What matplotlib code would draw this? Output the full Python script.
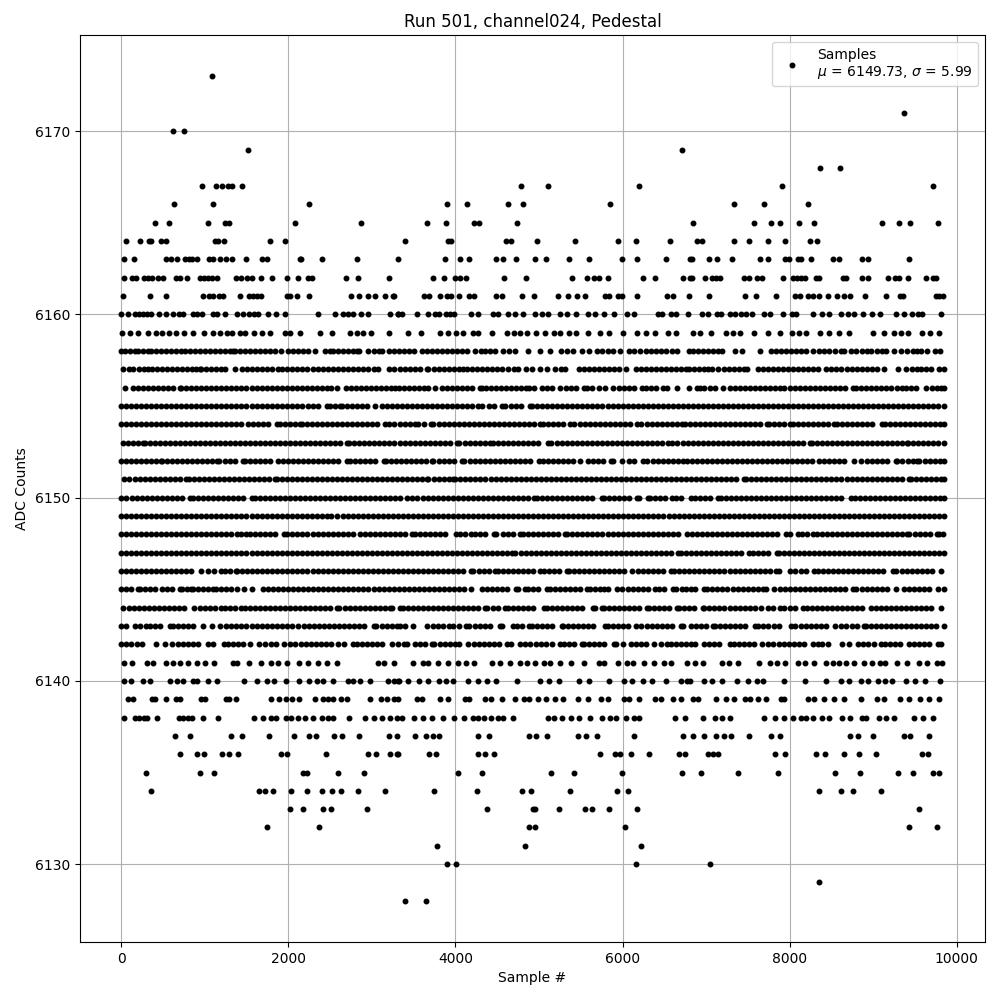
import matplotlib
matplotlib.use("Agg")
import matplotlib.pyplot as plt

# sample numbers, one list per ADC level
s6173 = [1088]
s6171 = [9368]
s6170 = [620,752]
s6169 = [1520,6712]
s6168 = [8360,8600]
s6167 = [968,1136,1208,1280,1328,1448,4780,5104,6196,7904,9716]
s6166 = [632,1100,2252,3904,4144,4624,4804,5848,7328,7688,8216]
s6165 = [404,572,1040,1244,1292,2084,2876,3664,3892,4228,4288,4732,6848,7568,7772,7880,8108,8288,9104,9308,9440,9776]
s6164 = [56,224,328,352,476,536,1124,1160,1232,1784,1964,3400,3916,3952,4600,4660,4972,5428,5944,6160,6568,6896,6956,7328,7508,7736,7940,8240,8324]
s6163 = [32,152,532,596,668,764,812,848,908,1052,1100,1184,1256,1328,1496,1688,1748,2144,2156,2408,2828,3308,3880,4060,4168,4480,4564,4720,4948,5080,5356,5596,5992,6172,6520,6804,6836,7040,7136,7304,7640,7736,7940,7988,8096,8132,8252,8516,8588,8864,8936,9428]
s6162 = [32,128,176,272,320,368,440,500,656,704,788,944,992,1040,1088,1148,1376,1436,1508,1568,1676,1808,1988,2120,2240,2288,2696,2840,3200,3736,3868,4000,4060,4132,4576,4840,5392,5572,5656,5716,5824,6244,6388,6724,6808,6836,6992,7076,7124,7172,7448,7508,7604,7664,7916,8036,8084,8132,8180,8312,8348,8636,8672,8864,8936,9176,9260,9308,9416,9632,9716,9752]
s6161 = [20,344,536,980,1052,1100,1172,1220,1424,1532,1580,1628,1676,1988,2024,2108,2252,2756,2852,2960,3032,3152,3248,3264,3628,3688,3820,3904,3952,4048,4168,4228,4480,4552,4792,4936,5224,5344,5452,5548,5788,5836,5944,5992,6172,6532,6604,6796,7040,7460,7592,7832,8060,8120,8216,8276,8348,8456,8564,8648,8720,8900,9152,9320,9356,9752,9788,9840]
s6160 = [0,80,164,212,260,308,356,452,536,620,692,740,860,908,968,1100,1148,1244,1388,1460,1532,1592,1640,1760,1856,1964,2360,2564,2660,2720,2780,2876,2960,3212,3308,3316,3364,3544,3676,3760,3808,3892,3940,3988,4192,4276,4444,4504,4624,4708,4804,4948,5032,5104,5248,5332,5440,5584,5668,5776,5896,6052,6136,6424,6472,6580,6640,6784,6956,7028,7136,7184,7280,7340,7412,7472,7544,7688,7760,7916,8024,8072,8276,8384,8468,8612,8696,8768,8876,8984,9080,9272,9368,9464,9536,9584,9812]
s6159 = [8,104,200,320,416,488,572,656,752,860,992,1100,1184,1268,1328,1424,1484,1592,1688,1784,1964,2024,2144,2384,2528,2744,2828,2900,2984,3208,3436,3592,3820,3916,4012,4096,4216,4276,4432,4612,4696,4768,4852,4960,5068,5176,5248,5356,5440,5584,5728,5836,6004,6172,6280,6388,6544,6640,6848,6932,7064,7232,7316,7400,7568,7736,7880,8024,8108,8192,8360,8468,8588,8708,8996,9128,9248,9332,9416,9584,9680,9788]

s6158 = [0,52,110,160,200,260,320,360,420,480,540,600,660,720,760,820,880,940,1000,1060,1120,1180,1240,1300,1340,1360,1420,1480,1540,1600,1660,1720,1780,1840,1910,2000,2060,2120,2180,2240,2320,2440,2500,2540,2590,2650,2710,2770,2820,2850,2950,3020,3080,3120,3200,3260,3320,3380,3440,3500,3596,3664,3720,3780,3840,3900,3960,4020,4080,4140,4236,4304,4360,4408,4476,4568,4636,4708,4864,5008,5136,5264,5330,5408,5512,5604,5692,5756,5820,5890,5968,6076,6140,6210,6276,6336,6400,6460,6520,6590,6656,6796,6840,6900,6960,7020,7080,7140,7188,7348,7428,7640,7776,7840,7900,7960,8020,8080,8140,8200,8280,8348,8410,8470,8540,8616,8648,8728,8790,8860,8928,8976,9040,9100,9148,9248,9328,9408,9470,9528,9576,9640,9736,9800]
s6157 = [28,90,140,212,270,320,368,430,490,550,610,670,730,790,850,900,940,960,1020,1080,1140,1190,1240,1360,1452,1508,1570,1630,1690,1750,1810,1880,1920,1980,2040,2100,2160,2220,2300,2360,2420,2480,2540,2600,2660,2720,2780,2840,2900,2960,3020,3068,3200,3260,3340,3400,3460,3520,3580,3656,3676,3740,3800,3860,3920,3980,4040,4088,4136,4200,4260,4320,4380,4440,4500,4560,4630,4696,4744,4840,4912,5008,5096,5196,5260,5316,5476,5540,5600,5660,5720,5780,5840,5900,5960,6036,6156,6220,6280,6340,6400,6464,6516,6580,6640,6700,6760,6800,6860,6920,6980,7028,7076,7148,7210,7270,7330,7390,7448,7488,7616,7680,7740,7800,7860,7920,7980,8040,8100,8160,8220,8280,8336,8436,8500,8556,8616,8680,8740,8800,8860,8920,8990,9048,9128,9292,9392,9460,9520,9576,9628,9696,9790,9845]
s6156 = [44,140,200,260,320,380,440,500,560,620,700,720,780,840,900,960,1020,1080,1140,1200,1260,1320,1380,1440,1500,1560,1620,1680,1740,1800,1860,1920,1980,2040,2100,2160,2220,2280,2340,2400,2460,2508,2580,2692,2750,2810,2870,2930,2990,3050,3110,3170,3230,3280,3320,3380,3440,3500,3560,3620,3676,3756,3836,3900,3960,4020,4080,4140,4200,4296,4316,4368,4430,4490,4550,4610,4670,4730,4790,4848,4876,4940,5036,5096,5156,5256,5320,5380,5440,5536,5576,5640,5716,5788,5888,5956,6020,6080,6140,6236,6276,6340,6400,6488,6536,6656,6796,6888,6930,6976,7048,7108,7208,7288,7350,7410,7470,7530,7590,7650,7710,7770,7830,7888,7936,8000,8060,8120,8180,8240,8300,8360,8420,8480,8540,8600,8660,8760,8788,8850,8910,8970,9030,9090,9150,9210,9280,9348,9388,9450,9508,9628,9700,9768,9808,9845]
s6155 = [0,60,120,180,240,300,360,420,480,540,600,660,720,780,840,900,960,1020,1080,1140,1200,1260,1320,1380,1440,1500,1560,1620,1680,1740,1800,1860,1920,1980,2040,2100,2160,2240,2300,2360,2460,2500,2560,2620,2640,2700,2760,2820,2880,2940,3040,3120,3180,3240,3300,3360,3420,3480,3540,3600,3660,3720,3780,3840,3900,3960,4020,4080,4140,4200,4276,4324,4396,4460,4556,4596,4660,4720,4780,4888,4916,4980,5040,5100,5160,5220,5280,5340,5400,5460,5520,5580,5640,5700,5760,5820,5880,5940,6000,6060,6120,6180,6240,6300,6360,6420,6480,6540,6600,6660,6720,6780,6840,6900,6960,7020,7080,7140,7200,7260,7320,7380,7440,7500,7560,7620,7680,7740,7800,7860,7920,7980,8040,8100,8160,8220,8280,8340,8400,8460,8520,8580,8640,8700,8760,8820,8880,8940,9000,9060,9120,9180,9240,9300,9360,9420,9480,9540,9600,9660,9720,9780,9845]
s6154 = [0,60,120,180,240,300,360,420,480,540,600,660,720,780,840,900,960,1020,1080,1140,1200,1260,1320,1380,1440,1520,1572,1640,1700,1760,1860,1900,1960,2020,2080,2140,2160,2220,2280,2340,2400,2460,2520,2580,2640,2700,2760,2820,2880,2940,3000,3060,3160,3200,3260,3340,3400,3460,3516,3556,3620,3704,3736,3800,3860,3920,3980,4040,4100,4160,4220,4280,4340,4400,4460,4520,4580,4640,4700,4760,4820,4880,4940,5016,5048,5110,5170,5230,5288,5368,5424,5490,5550,5610,5670,5730,5790,5850,5910,5970,6030,6090,6176,6224,6290,6350,6410,6470,6530,6590,6650,6710,6748,6810,6870,6930,6990,7050,7110,7170,7230,7290,7350,7410,7470,7530,7590,7650,7728,7748,7810,7870,7930,8008,8040,8100,8160,8220,8280,8340,8400,8460,8536,8568,8630,8690,8750,8810,8870,8930,8990,9100,9136,9200,9260,9320,9380,9440,9500,9560,9620,9680,9740,9800,9845]
s6153 = [20,80,140,200,260,280,340,400,460,520,580,640,700,760,820,880,940,1000,1060,1120,1180,1240,1300,1360,1420,1480,1540,1600,1660,1720,1780,1840,1900,1960,2020,2080,2140,2200,2260,2320,2380,2440,2500,2560,2620,2700,2732,2790,2850,2910,2970,3030,3090,3150,3210,3270,3340,3400,3460,3520,3580,3640,3700,3760,3820,3880,3940,4016,4048,4110,4170,4230,4290,4350,4416,4448,4510,4570,4630,4690,4750,4810,4870,4930,4990,5104,5144,5210,5270,5330,5390,5450,5510,5570,5630,5690,5750,5810,5870,5930,5990,6050,6110,6170,6230,6290,6350,6410,6470,6544,6596,6656,6720,6780,6840,6900,6960,7020,7080,7140,7200,7260,7320,7380,7440,7500,7560,7620,7680,7740,7800,7860,7920,7980,8040,8100,8160,8248,8268,8330,8390,8450,8510,8570,8630,8690,8750,8810,8870,8930,8990,9050,9110,9170,9230,9290,9350,9400,9416,9480,9540,9600,9660,9720,9780,9845]
s6152 = [0,60,120,180,240,300,360,420,472,488,550,610,670,730,790,850,910,970,1030,1090,1148,1172,1240,1300,1360,1460,1480,1540,1600,1660,1720,1780,1880,1940,2000,2060,2120,2180,2240,2300,2360,2420,2480,2540,2600,2700,2740,2800,2860,2920,2980,3040,3140,3168,3230,3290,3350,3410,3470,3530,3590,3650,3716,3736,3800,3860,3920,3980,4076,4104,4170,4230,4290,4350,4410,4470,4530,4590,4650,4710,4770,4830,4890,4996,5048,5110,5170,5230,5290,5350,5410,5496,5584,5650,5710,5770,5864,5888,5996,6076,6140,6248,6296,6360,6420,6480,6540,6600,6660,6720,6768,6830,6890,6950,7010,7070,7130,7190,7250,7310,7370,7430,7490,7550,7610,7670,7730,7790,7850,7910,7970,8030,8090,8150,8208,8272,8348,8410,8470,8530,8590,8650,8768,8856,8920,8980,9040,9100,9160,9268,9288,9350,9410,9470,9528,9552,9620,9680,9740,9800,9845]
s6151 = [40,100,160,220,280,340,400,460,520,580,640,700,780,812,870,930,990,1050,1110,1170,1230,1290,1350,1410,1470,1530,1590,1650,1710,1770,1840,1860,1920,1980,2040,2100,2160,2220,2280,2340,2400,2460,2520,2580,2640,2700,2760,2820,2880,2940,3000,3060,3120,3180,3240,3300,3360,3420,3480,3540,3600,3656,3676,3740,3800,3860,3920,3976,3996,4060,4120,4180,4240,4300,4360,4420,4480,4540,4600,4660,4720,4780,4840,4900,4960,5020,5080,5140,5200,5260,5320,5380,5440,5500,5560,5620,5680,5740,5800,5860,5920,5980,6040,6100,6160,6220,6280,6340,6400,6460,6520,6580,6640,6700,6760,6820,6880,6940,7000,7060,7120,7180,7240,7300,7360,7448,7476,7540,7600,7660,7720,7780,7840,7900,7960,8020,8080,8140,8200,8260,8320,8380,8440,8500,8560,8620,8680,8740,8800,8860,8920,8980,9040,9100,9160,9220,9280,9340,9428,9448,9510,9570,9630,9690,9750,9810,9845]
s6150 = [0,60,132,188,250,310,370,430,490,550,610,670,730,820,860,920,980,1040,1100,1160,1220,1280,1340,1400,1460,1560,1600,1660,1720,1780,1840,1900,1960,2020,2080,2140,2200,2260,2320,2380,2440,2500,2560,2620,2680,2740,2800,2860,2920,2980,3040,3100,3160,3220,3280,3340,3424,3480,3544,3610,3670,3730,3790,3850,3910,3970,4030,4090,4150,4210,4270,4330,4390,4450,4510,4570,4630,4690,4750,4810,4870,4936,4976,5040,5100,5160,5220,5280,5340,5400,5460,5520,5580,5640,5756,5776,5840,5900,5960,6020,6080,6168,6196,6304,6328,6390,6450,6510,6596,6636,6700,6816,6870,6930,6990,7050,7148,7176,7240,7300,7360,7420,7480,7540,7600,7660,7720,7780,7840,7900,7960,8020,8080,8140,8200,8260,8320,8380,8440,8500,8560,8620,8736,8776,8840,8900,8960,9020,9080,9140,9200,9260,9320,9380,9440,9500,9560,9620,9680,9740,9800,9845]
s6149 = [0,60,120,180,240,300,360,420,480,540,600,660,720,780,840,900,960,1020,1080,1140,1200,1260,1320,1380,1440,1500,1560,1620,1680,1740,1800,1860,1920,1980,2040,2100,2160,2220,2280,2340,2400,2460,2508,2588,2650,2710,2770,2830,2890,2950,3010,3070,3130,3190,3250,3310,3370,3430,3490,3550,3610,3670,3730,3790,3850,3910,3970,4030,4090,4150,4210,4270,4330,4390,4450,4510,4570,4630,4690,4750,4810,4870,4930,4990,5050,5110,5170,5230,5290,5350,5410,5470,5530,5590,5650,5710,5770,5830,5890,5950,6010,6070,6130,6190,6250,6310,6370,6430,6490,6550,6610,6670,6730,6790,6850,6910,6970,7030,7090,7150,7210,7270,7330,7390,7450,7510,7570,7630,7690,7750,7810,7870,7930,7990,8050,8110,8170,8230,8290,8350,8410,8470,8530,8590,8650,8710,8770,8830,8890,8950,9010,9070,9130,9190,9250,9310,9370,9430,9490,9550,9610,9670,9730,9790,9845]
s6148 = [0,60,120,180,240,300,360,420,480,540,600,660,720,780,840,900,960,1020,1080,1140,1200,1260,1320,1388,1440,1500,1540,1600,1660,1720,1780,1840,1948,1988,2050,2110,2170,2230,2290,2350,2410,2470,2530,2590,2650,2710,2770,2860,2920,2980,3040,3100,3160,3220,3280,3340,3400,3476,3516,3580,3640,3700,3760,3820,3880,4008,4056,4120,4184,4236,4300,4360,4464,4488,4568,4624,4690,4768,4808,4870,4930,4990,5050,5110,5170,5230,5316,5336,5400,5460,5520,5580,5640,5700,5760,5820,5880,5940,6000,6060,6120,6180,6240,6300,6360,6420,6480,6540,6600,6660,6776,6828,6890,6950,7010,7070,7130,7190,7250,7310,7370,7430,7490,7550,7610,7670,7730,7790,7850,7960,8000,8096,8148,8210,8280,8328,8390,8450,8510,8570,8630,8690,8750,8810,8870,8930,8990,9050,9110,9170,9230,9290,9350,9408,9432,9500,9560,9620,9680,9760,9788,9840]
s6147 = [0,60,120,180,240,300,360,420,480,540,600,660,720,780,840,900,960,1020,1080,1140,1200,1260,1320,1380,1440,1500,1560,1620,1680,1740,1800,1860,1920,1980,2040,2100,2160,2220,2280,2340,2400,2460,2520,2580,2640,2700,2760,2820,2880,2940,3000,3060,3120,3180,3240,3300,3360,3420,3480,3540,3600,3660,3720,3780,3840,3900,3960,4020,4080,4140,4200,4260,4320,4380,4440,4500,4560,4620,4676,4716,4780,4840,4900,4960,5020,5080,5140,5200,5260,5320,5380,5440,5500,5560,5620,5680,5740,5800,5860,5920,5980,6040,6100,6160,6220,6280,6340,6400,6460,6520,6580,6664,6696,6760,6820,6880,6940,7000,7060,7120,7180,7240,7300,7360,7420,7508,7560,7620,7680,7740,7848,7868,7930,7990,8050,8110,8170,8230,8290,8350,8410,8470,8530,8590,8650,8710,8770,8830,8890,8950,9010,9070,9130,9190,9250,9310,9370,9430,9490,9550,9610,9670,9730,9790,9845]
s6146 = [0,60,120,180,240,300,360,420,480,540,600,660,720,780,840,960,1040,1110,1200,1240,1300,1372,1388,1450,1510,1570,1630,1690,1750,1810,1870,1930,1990,2050,2110,2170,2230,2290,2350,2410,2470,2530,2590,2650,2710,2770,2830,2890,2950,3010,3070,3130,3190,3250,3310,3370,3430,3490,3550,3610,3670,3730,3790,3850,3910,3970,4030,4090,4184,4216,4280,4340,4400,4476,4504,4570,4630,4690,4750,4810,4870,4930,5008,5056,5120,5180,5240,5336,5356,5420,5480,5540,5600,5660,5720,5780,5840,5900,5960,6020,6116,6184,6250,6310,6370,6430,6490,6584,6616,6680,6740,6800,6860,6920,6980,7040,7100,7160,7220,7280,7340,7400,7460,7520,7580,7640,7700,7760,7840,7868,8000,8068,8130,8190,8296,8336,8400,8460,8520,8580,8640,8700,8760,8820,8880,8940,9000,9060,9120,9236,9272,9340,9400,9460,9520,9580,9640,9700,9816]
s6145 = [0,60,120,200,220,290,350,410,492,548,610,700,728,790,840,860,920,980,1040,1100,1132,1200,1260,1320,1388,1468,1560,1692,1760,1820,1880,1940,2000,2060,2120,2180,2240,2300,2360,2420,2480,2540,2600,2660,2720,2780,2840,2900,2960,3020,3080,3140,3200,3260,3320,3380,3440,3500,3560,3620,3680,3740,3800,3860,3920,3980,4040,4100,4184,4316,4380,4440,4500,4560,4620,4728,4744,4832,4864,4930,4990,5096,5128,5190,5250,5310,5370,5430,5490,5576,5608,5670,5730,5784,5824,5936,5996,6060,6120,6180,6240,6300,6384,6436,6500,6608,6636,6716,6756,6816,6870,6976,7008,7070,7130,7190,7250,7316,7376,7440,7500,7560,7620,7680,7720,7808,7880,7940,8000,8060,8120,8180,8240,8300,8360,8420,8480,8540,8600,8660,8760,8788,8868,8930,8990,9050,9110,9170,9268,9368,9430,9490,9550,9610,9670,9776,9845]
s6144 = [28,90,150,210,270,330,390,450,510,570,628,692,750,868,940,1000,1060,1120,1200,1240,1300,1360,1440,1480,1540,1600,1660,1720,1780,1840,1900,1960,2020,2080,2140,2200,2260,2320,2380,2440,2500,2580,2612,2680,2740,2800,2860,2920,2980,3040,3100,3160,3220,3240,3340,3368,3430,3490,3550,3610,3670,3730,3790,3850,3910,3970,4030,4090,4150,4210,4270,4356,4384,4450,4510,4596,4624,4690,4750,4810,4870,4930,5064,5096,5160,5220,5280,5340,5400,5460,5520,5648,5676,5756,5776,5840,5900,5960,6020,6080,6140,6200,6296,6316,6380,6440,6500,6560,6648,6680,6740,6800,6860,6968,6976,7040,7100,7160,7220,7280,7340,7400,7460,7520,7580,7656,7736,7800,7888,7936,8000,8060,8160,8208,8268,8330,8390,8450,8510,8570,8630,8690,8750,8810,8870,8976,9028,9090,9150,9210,9270,9330,9390,9450,9510,9570,9630,9690,9816]
s6143 = [0,60,160,228,300,340,400,460,580,620,680,740,800,860,980,1088,1188,1260,1320,1380,1440,1500,1560,1620,1680,1740,1800,1860,1920,1980,2040,2120,2188,2250,2310,2370,2430,2490,2550,2610,2670,2730,2790,2850,2910,3020,3052,3120,3180,3240,3300,3340,3400,3496,3664,3730,3790,3850,3920,3968,4040,4128,4168,4230,4290,4350,4410,4528,4556,4688,4736,4800,4876,4916,4976,5040,5100,5160,5276,5288,5350,5410,5470,5530,5590,5650,5796,5824,5890,5950,6010,6070,6156,6224,6290,6350,6410,6470,6530,6590,6696,6728,6816,6880,6940,7000,7088,7108,7170,7230,7290,7350,7410,7470,7588,7616,7680,7740,7808,7868,8016,8068,8130,8190,8250,8310,8370,8430,8548,8620,8676,8740,8800,8888,8908,8970,9030,9090,9150,9210,9270,9330,9390,9450,9510,9570,9630,9690,9750,9845]
s6142 = [0,60,120,190,252,420,520,612,680,740,800,860,920,1040,1100,1228,1280,1340,1400,1460,1548,1652,1720,1790,1850,1948,2020,2080,2148,2210,2270,2330,2390,2450,2508,2600,2672,2780,2820,2880,2940,3000,3060,3120,3240,3308,3384,3424,3516,3580,3640,3716,3744,3810,3870,3930,3996,4048,4156,4220,4280,4340,4400,4460,4520,4616,4664,4768,4830,4890,4968,5024,5088,5150,5256,5296,5360,5420,5516,5536,5600,5660,5720,5780,5896,5916,6008,6096,6160,6220,6280,6376,6456,6536,6584,6636,6700,6760,6816,6868,6976,7040,7100,7160,7288,7328,7390,7450,7510,7570,7668,7736,7800,7868,7928,7988,8048,8108,8168,8280,8340,8388,8456,8624,8708,8816,8880,8940,9010,9096,9136,9200,9260,9320,9428,9488,9550,9610,9670,9776,9816]

s6141 = [32,128,308,380,536,620,704,800,908,1004,1112,1340,1388,1532,1676,1796,1880,1988,2132,2240,2360,2468,2588,3068,3140,3260,3496,3616,3676,3796,3916,4036,4132,4228,4432,4528,4648,4768,4856,4948,5056,5128,5256,5380,5536,5716,5776,5944,6052,6124,6256,6376,6496,6580,6772,6872,6968,7196,7268,7376,7628,7760,7848,7940,8096,8188,8288,8440,8516,8588,8676,8768,8888,8988,9080,9140,9284,9408,9548,9648,9764,9824]
s6140 = [32,116,260,340,584,668,740,860,908,1040,1148,1472,1628,1748,1832,1976,2132,2252,2340,2420,2540,2720,2780,2860,2972,3188,3260,3308,3328,3436,3568,3676,3808,3892,3976,4156,4276,4384,4480,4732,5008,5116,5236,5476,5596,5836,6016,6112,6244,6352,6520,6700,6772,6812,6980,7076,7196,7364,7496,7604,7676,7928,8180,8432,8612,8708,8852,8936,9056,9140,9224,9392,9500,9620,9800]
s6139 = [80,140,368,404,536,656,704,956,1004,1256,1292,1376,1796,1892,1976,2048,2132,2324,2420,2480,2540,2636,2708,2972,3104,3176,3260,3316,3544,3604,3820,3916,4120,4168,4360,4420,4552,4708,4816,4876,4984,5080,5188,5284,5464,5584,5740,5824,6012,6076,6196,6388,6460,6604,6700,6848,6908,7124,7232,7328,7460,7520,7616,7712,7892,7928,8216,8288,8408,8528,8648,8852,9044,9128,9320,9428,9560,9668,9788]
s6138 = [40,164,212,272,308,428,692,740,800,848,980,1160,1592,1700,1796,1856,1976,2036,2120,2204,2300,2408,2480,2540,2732,2924,3020,3116,3212,3296,3364,3508,3616,3724,3856,3988,4108,4216,4276,4348,4420,4504,4564,4684,5104,5176,5272,5380,5476,5608,5752,5848,5920,6036,6136,6196,6628,6748,6968,7112,7196,7280,7688,7820,7928,8036,8132,8192,8276,8384,8468,8624,8720,8864,8912,9068,9152,9248,9488,9596,9716]
s6137 = [644,824,1316,1448,1772,2072,2252,2336,2552,2648,2852,3200,3296,3520,3652,3736,3808,4276,4396,4876,4960,5092,5464,5560,5692,6132,6724,6848,6980,7124,7220,7292,7508,7772,7880,8720,8816,8996,9368,9440,9668]
s6136 = [704,908,992,1208,1292,1400,1916,1988,2456,2960,3044,3212,3296,3316,3688,3772,4276,4360,4456,5728,5908,5968,6096,6316,6676,6748,7028,7088,7148,7820,7940,8312,8420,8648,8828,9032,9584,9656]
s6135 = [296,944,1112,2180,2228,2600,2912,4036,4324,5140,5416,5992,6712,6944,7376,7856,8540,8840,9296,9476,9716,9788]
s6134 = [356,1652,1724,1820,2036,2228,2408,2528,2636,2840,3152,3748,4264,4792,4900,5368,5928,6064,8348,8612,8756,9092]
s6133 = [2024,2180,2420,2516,2948,4384,4924,4948,5236,5548,5632,5836,6172,9548]
s6132 = [1748,2372,4876,4948,6028,9428,9764]
s6131 = [3784,4828,6220]
s6130 = [3904,4012,6160,7052]
s6129 = [8348]
s6128 = [3400,3652]

levels = [6173,6171,6170,6169,6168,6167,6166,6165,6164,6163,6162,6161,6160,6159,6158,6157,6156,6155,6154,6153,6152,6151,6150,6149,6148,6147,6146,6145,6144,6143,6142,6141,6140,6139,6138,6137,6136,6135,6134,6133,6132,6131,6130,6129,6128]
rows = [s6173,s6171,s6170,s6169,s6168,s6167,s6166,s6165,s6164,s6163,s6162,s6161,s6160,s6159,s6158,s6157,s6156,s6155,s6154,s6153,s6152,s6151,s6150,s6149,s6148,s6147,s6146,s6145,s6144,s6143,s6142,s6141,s6140,s6139,s6138,s6137,s6136,s6135,s6134,s6133,s6132,s6131,s6130,s6129,s6128]

samples = []
counts = []
for level, row in zip(levels, rows):
    samples += row
    counts += [level] * len(row)

plt.figure(figsize=(10,10))
plt.plot(samples,counts,"k.",markersize=6.5,label="Samples\n$\\mu$ = 6149.73, $\\sigma$ = 5.99")
plt.title("Run 501, channel024, Pedestal")
plt.xlabel("Sample #")
plt.ylabel("ADC Counts")
plt.grid(True)
plt.legend(loc="upper right")
plt.subplots_adjust(left=0.08,right=0.985,top=0.965,bottom=0.058)
plt.savefig("out.png",dpi=100)
